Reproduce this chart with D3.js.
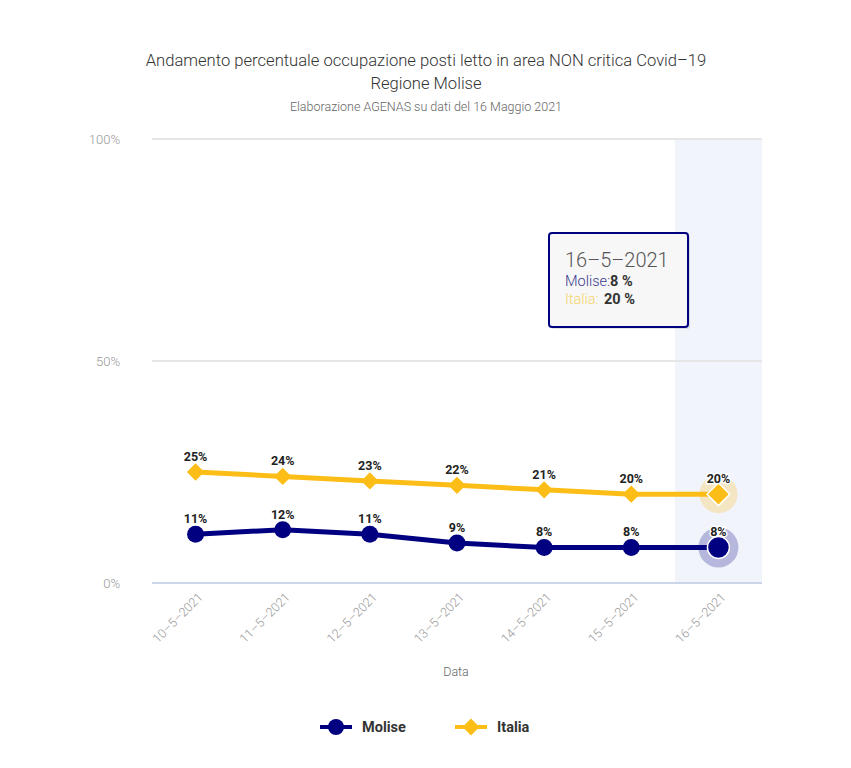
<!DOCTYPE html>
<html lang="it">
<head>
<meta charset="utf-8">
<title>Occupazione posti letto area NON critica - Molise</title>
<script src="https://d3js.org/d3.v7.min.js"></script>
<style>
  body { margin: 0; background: #fff; font-family: Roboto, "Noto Sans", sans-serif; }
  .grid line { stroke: #e6e6e6; stroke-width: 2px; }
  .ylab { fill: #999; font-size: 13px; font-weight: 300; }
  .xlab { fill: #999; font-size: 12.5px; font-weight: 300; }
  .dlabel { font-size: 12.5px; font-weight: bold; fill: #222; stroke: #fff; stroke-width: 3px; paint-order: stroke; }
</style>
</head>
<body>
<svg width="851" height="768"></svg>
<script>
var dates = ["10-5-2021", "11-5-2021", "12-5-2021", "13-5-2021", "14-5-2021", "15-5-2021", "16-5-2021"];
var molise = [11, 12, 11, 9, 8, 8, 8];
var italia = [25, 24, 23, 22, 21, 20, 20];
var yTicks = [0, 50, 100];

var svg = d3.select("svg");
var plotLeft = 152, plotRight = 762, plotTop = 139, plotBottom = 583;

var x = d3.scaleBand().domain(dates).range([plotLeft, plotRight]);
var y = d3.scaleLinear().domain([0, 100]).range([plotBottom, plotTop]);
var cx = function(d) { return x(d) + x.bandwidth() / 2; };

// titoli
svg.append("text").attr("x", 426).attr("y", 66).attr("text-anchor", "middle")
  .style("font-size", "16.6px").style("font-weight", "300").style("fill", "#333")
  .text("Andamento percentuale occupazione posti letto in area NON critica Covid\u201319");
svg.append("text").attr("x", 426).attr("y", 89).attr("text-anchor", "middle")
  .style("font-size", "16.6px").style("font-weight", "300").style("fill", "#333").text("Regione Molise");
svg.append("text").attr("x", 426).attr("y", 111).attr("text-anchor", "middle")
  .style("font-size", "12.5px").style("font-weight", "300").style("fill", "#666")
  .text("Elaborazione AGENAS su dati del 16 Maggio 2021");

// banda evidenziata (hover)
var last = dates[dates.length - 1];
svg.append("rect").attr("x", x(last)).attr("y", plotTop).attr("width", x.bandwidth())
  .attr("height", plotBottom - plotTop).attr("fill", "#f2f4fb");

// griglia
var grid = svg.append("g").attr("class", "grid");
grid.selectAll("line").data(yTicks).enter().append("line")
  .attr("x1", plotLeft).attr("x2", plotRight)
  .attr("y1", d => y(d)).attr("y2", d => y(d))
  .style("stroke", d => d === 0 ? "#ccd6eb" : null);
svg.selectAll(".ylab").data(yTicks).enter().append("text").attr("class", "ylab")
  .attr("x", 120).attr("y", d => y(d) + 5).attr("text-anchor", "end").text(d => d + "%");

// etichette asse x
svg.selectAll(".xlab").data(dates).enter().append("text").attr("class", "xlab")
  .attr("text-anchor", "end")
  .attr("transform", d => "translate(" + (cx(d) + 8) + "," + (plotBottom + 15) + ") rotate(-45)")
  .text(d => d.replace(/-/g, "\u2013"));
svg.append("text").attr("x", 456).attr("y", 676).attr("text-anchor", "middle")
  .style("font-size", "12.5px").style("font-weight", "300").style("fill", "#666").text("Data");

var line = d3.line().x((d, i) => cx(dates[i])).y(d => y(d));
var diamond = d3.symbol().type(d3.symbolDiamond2);

function drawSeries(vals, color, shape) {
  svg.append("path").datum(vals).attr("d", line).attr("fill", "none")
    .attr("stroke", color).attr("stroke-width", 5).attr("stroke-linejoin", "round");
  var n = vals.length - 1;
  // alone sul punto attivo
  svg.append("circle").attr("cx", cx(dates[n])).attr("cy", y(vals[n])).attr("r", shape === "circle" ? 20 : 19)
    .attr("fill", color).attr("opacity", 0.25);
  vals.forEach(function(v, i) {
    var px = cx(dates[i]), py = y(v), big = i === n;
    if (shape === "circle") {
      svg.append("circle").attr("cx", px).attr("cy", py).attr("r", big ? 11 : 8.5)
        .attr("fill", color).attr("stroke", big ? "#fff" : "none").attr("stroke-width", 1.5);
    } else {
      svg.append("path").attr("transform", "translate(" + px + "," + py + ")")
        .attr("d", diamond.size(big ? 330 : 190)()).attr("fill", color)
        .attr("stroke", big ? "#fff" : "none").attr("stroke-width", 1.5);
    }
    svg.append("text").attr("class", "dlabel").attr("x", px).attr("y", py - 11)
      .attr("text-anchor", "middle").text(v + "%");
  });
}

drawSeries(italia, "#fcbd16", "diamond");
drawSeries(molise, "#000080", "circle");

// tooltip
var tip = svg.append("g").attr("transform", "translate(549,233)");
tip.append("rect").attr("x", 2).attr("y", 2).attr("width", 139).attr("height", 94).attr("rx", 3)
  .attr("fill", "#000").attr("opacity", 0.1);
tip.append("rect").attr("width", 139).attr("height", 94).attr("rx", 3)
  .attr("fill", "#f7f7f7").attr("stroke", "#000080").attr("stroke-width", 2);
tip.append("text").attr("x", 16).attr("y", 34).style("font-size", "20px").style("font-weight", "300")
  .style("fill", "#555").text(last.replace(/-/g, "\u2013"));
var t1 = tip.append("text").attr("x", 16).attr("y", 53).style("font-size", "14.5px");
t1.append("tspan").style("fill", "#3a3a8c").style("font-weight", "300").text("Molise:");
t1.append("tspan").style("fill", "#333").style("font-weight", "bold").text(molise[molise.length - 1] + " %");
var t2 = tip.append("text").attr("x", 16).attr("y", 71).style("font-size", "14.5px");
t2.append("tspan").style("fill", "#f5d36b").style("font-weight", "300").text("Italia:");
t2.append("tspan").attr("x", 55).style("fill", "#333").style("font-weight", "bold").text(italia[italia.length - 1] + " %");

// legenda
var legend = [{name: "Molise", color: "#000080", shape: "circle", x: 320}, {name: "Italia", color: "#fcbd16", shape: "diamond", x: 455}];
legend.forEach(function(l) {
  var g = svg.append("g").attr("transform", "translate(" + l.x + ",727)");
  g.append("line").attr("x1", 0).attr("x2", 32).attr("stroke", l.color).attr("stroke-width", 4);
  if (l.shape === "circle") g.append("circle").attr("cx", 16).attr("r", 8).attr("fill", l.color);
  else g.append("path").attr("transform", "translate(16,0)").attr("d", diamond.size(180)()).attr("fill", l.color);
  g.append("text").attr("x", 42).attr("y", 5).style("font-size", "14.5px").style("font-weight", "bold")
    .style("fill", "#333").text(l.name);
});
</script>
</body>
</html>
